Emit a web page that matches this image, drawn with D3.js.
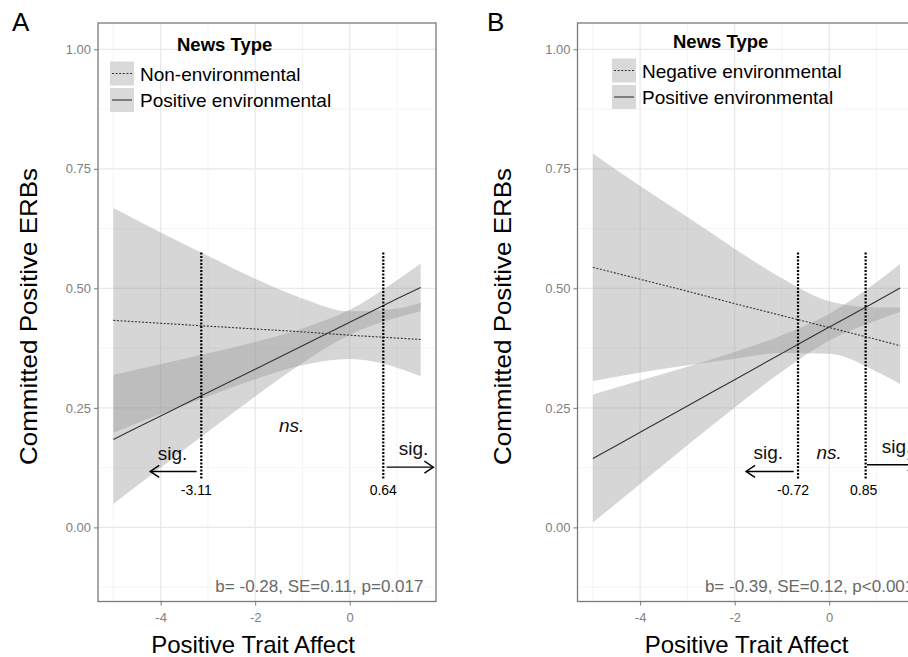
<!DOCTYPE html>
<html>
<head>
<meta charset="utf-8">
<script src="https://cdn.jsdelivr.net/npm/d3@7"></script>
<style>
  body { margin: 0; background: #fff; }
  text { font-family: "Liberation Sans", Arial, sans-serif; }
</style>
</head>
<body>
<svg id="chart" width="908" height="657"></svg>
<script>
// values
var xPts = [-5, -4, -3, -2, -1, 0, 1, 1.5];

// panel A
var fitA_non = [0.433, 0.427, 0.421, 0.415, 0.409, 0.402, 0.396, 0.393];
var loA_non  = [0.198, 0.237, 0.274, 0.310, 0.339, 0.352, 0.334, 0.316];
var hiA_non  = [0.668, 0.617, 0.568, 0.520, 0.479, 0.452, 0.458, 0.470];
var fitA_pos = [0.184, 0.233, 0.282, 0.331, 0.380, 0.429, 0.478, 0.502];
var loA_pos  = [0.049, 0.125, 0.200, 0.274, 0.344, 0.403, 0.439, 0.452];
var hiA_pos  = [0.319, 0.341, 0.364, 0.388, 0.416, 0.455, 0.517, 0.552];

// panel B
var fitB_neg = [0.544, 0.519, 0.494, 0.468, 0.443, 0.418, 0.393, 0.380];
var loB_neg  = [0.306, 0.324, 0.339, 0.353, 0.365, 0.363, 0.326, 0.300];
var hiB_neg  = [0.782, 0.714, 0.649, 0.583, 0.521, 0.473, 0.460, 0.460];
var fitB_pos = [0.144, 0.199, 0.254, 0.309, 0.364, 0.419, 0.473, 0.501];
var loB_pos  = [0.010, 0.091, 0.172, 0.251, 0.326, 0.391, 0.433, 0.451];
var hiB_pos  = [0.278, 0.307, 0.336, 0.367, 0.402, 0.447, 0.513, 0.551];

var xTicks = [-4, -2, 0];
var xMinor = [-5, -3, -1, 1];
var yTicks = [0, 0.25, 0.5, 0.75, 1];
var yMinor = [-0.125, 0.125, 0.375, 0.625, 0.875];

var legendA = ["Non-environmental", "Positive environmental"];
var legendB = ["Negative environmental", "Positive environmental"];

// Johnson-Neyman lines: drawn position and printed label
var jnA = [-3.14, 0.71], jnLabA = ["-3.11", "0.64"];
var jnB = [-0.66, 0.77], jnLabB = ["-0.72", "0.85"];

var statA = "b= -0.28, SE=0.11, p=0.017";
var statB = "b= -0.39, SE=0.12, p<0.001";

var svg = d3.select("#chart");
svg.append("rect").attr("width", 908).attr("height", 657).attr("fill", "#fff");

function zip(ys) {
  return xPts.map(function (x, i) { return { x: x, y: ys[i] }; });
}
function band(lo, hi) {
  return xPts.map(function (x, i) { return { x: x, lo: lo[i], hi: hi[i] }; });
}

function drawPanel(cfg) {
  var x = d3.scaleLinear().domain([-5.325, 1.825]).range([cfg.left, cfg.left + 338]);
  var y = d3.scaleLinear().domain([-0.155, 1.055]).range([601.5, 23]);
  var g = svg.append("g");

  // grid
  g.selectAll(".minx").data(xMinor).enter().append("line")
    .attr("x1", x).attr("x2", x).attr("y1", y(1.055)).attr("y2", y(-0.155))
    .attr("stroke", "#f1f1f1").attr("stroke-width", 0.7);
  g.selectAll(".miny").data(yMinor).enter().append("line")
    .attr("y1", y).attr("y2", y).attr("x1", x(-5.325)).attr("x2", x(1.825))
    .attr("stroke", "#f1f1f1").attr("stroke-width", 0.7);
  g.selectAll(".majx").data(xTicks).enter().append("line")
    .attr("x1", x).attr("x2", x).attr("y1", y(1.055)).attr("y2", y(-0.155))
    .attr("stroke", "#e8e8e8").attr("stroke-width", 1.2);
  g.selectAll(".majy").data(yTicks).enter().append("line")
    .attr("y1", y).attr("y2", y).attr("x1", x(-5.325)).attr("x2", x(1.825))
    .attr("stroke", "#e8e8e8").attr("stroke-width", 1.2);

  // ribbons
  var area = d3.area().curve(d3.curveMonotoneX)
    .x(function (d) { return x(d.x); })
    .y0(function (d) { return y(d.lo); })
    .y1(function (d) { return y(d.hi); });
  cfg.bands.forEach(function (b) {
    g.append("path").attr("d", area(b))
      .attr("fill", "#999").attr("fill-opacity", 0.4);
  });

  // fitted lines
  var line = d3.line().curve(d3.curveMonotoneX)
    .x(function (d) { return x(d.x); })
    .y(function (d) { return y(d.y); });
  g.append("path").attr("d", line(cfg.dotted))
    .attr("fill", "none").attr("stroke", "#333").attr("stroke-width", 1.1)
    .attr("stroke-dasharray", "2,1.6");
  g.append("path").attr("d", line(cfg.solid))
    .attr("fill", "none").attr("stroke", "#333").attr("stroke-width", 1.1);

  // JN lines
  g.selectAll(".jn").data(cfg.jn).enter().append("line")
    .attr("x1", x).attr("x2", x).attr("y1", y(0.575)).attr("y2", y(0.10))
    .attr("stroke", "#000").attr("stroke-width", 2.2)
    .attr("stroke-dasharray", "2,1.5");
  g.selectAll(".jnl").data(cfg.jn).enter().append("text")
    .attr("x", function (d, i) { return x(d) + cfg.labShift[i]; })
    .attr("y", y(0.068))
    .attr("text-anchor", "middle").attr("font-size", 14).attr("fill", "#000")
    .text(function (d, i) { return cfg.jnLab[i]; });

  // arrows
  cfg.arrows.forEach(function (a) {
    var x1 = x(a[0]), x2 = x(a[1]), yy = y(a[2]);
    var dir = x2 > x1 ? 1 : -1;
    g.append("line").attr("x1", x1).attr("x2", x2).attr("y1", yy).attr("y2", yy)
      .attr("stroke", "#000").attr("stroke-width", 1.4);
    g.append("path")
      .attr("d", "M" + (x2 - dir * 9) + "," + (yy - 6) + "L" + x2 + "," + yy + "L" + (x2 - dir * 9) + "," + (yy + 6))
      .attr("fill", "none").attr("stroke", "#000").attr("stroke-width", 1.4);
  });

  cfg.notes.forEach(function (n) {
    g.append("text").attr("x", x(n.x)).attr("y", y(n.y))
      .attr("text-anchor", n.anchor).attr("font-size", 19)
      .attr("font-style", n.italic ? "italic" : "normal")
      .attr("fill", "#111").text(n.t);
  });

  // stats
  g.append("text").attr("x", x(cfg.stat.x)).attr("y", y(-0.136))
    .attr("text-anchor", cfg.stat.anchor).attr("font-size", 17)
    .attr("fill", "#6a6a6a").text(cfg.stat.t);

  // border
  g.append("rect").attr("x", x(-5.325)).attr("y", y(1.055))
    .attr("width", 338).attr("height", y(-0.155) - y(1.055))
    .attr("fill", "none").attr("stroke", "#7a7a7a").attr("stroke-width", 1.3);

  // axes (plain hyphen for negatives, like the original)
  var xAxis = d3.axisBottom(x).tickValues(xTicks).tickSize(4)
    .tickFormat(function (d) { return String(d); });
  var ax = g.append("g").attr("transform", "translate(0," + y(-0.155) + ")").call(xAxis);
  var yAxis = d3.axisLeft(y).tickValues(yTicks).tickSize(4)
    .tickFormat(function (d) { return d.toFixed(2); });
  var ay = g.append("g").attr("transform", "translate(" + x(-5.325) + ",0)").call(yAxis);
  [ax, ay].forEach(function (a) {
    a.select(".domain").remove();
    a.selectAll(".tick line").attr("stroke", "#7a7a7a");
    a.selectAll(".tick text").attr("fill", "#808080").attr("font-size", 13)
      .attr("font-family", "Liberation Sans, Arial, sans-serif");
  });
  ax.selectAll(".tick text").attr("dy", "1.05em");

  // titles
  g.append("text").attr("x", cfg.xTitleX).attr("y", 653)
    .attr("text-anchor", "middle").attr("font-size", 24).attr("fill", "#000")
    .text("Positive Trait Affect");
  g.append("text")
    .attr("transform", "translate(" + cfg.yTitleX + ",316.5) rotate(-90)")
    .attr("text-anchor", "middle").attr("font-size", 24).attr("fill", "#000")
    .attr("textLength", 297).attr("lengthAdjust", "spacingAndGlyphs")
    .text("Committed Positive ERBs");
  g.append("text").attr("x", cfg.tagX).attr("y", 31)
    .attr("font-size", 26).attr("fill", "#000").text(cfg.tag);

  // legend
  var lg = g.append("g").attr("transform", "translate(" + cfg.legX + "," + cfg.legY + ")");
  lg.append("text").attr("x", cfg.legTitleDx).attr("y", -11)
    .attr("font-size", 18.5).attr("font-weight", "bold").attr("fill", "#000")
    .text("News Type");
  cfg.legend.forEach(function (name, i) {
    var yy = i * 26.5;
    lg.append("rect").attr("x", 0).attr("y", yy).attr("width", 24).attr("height", 24)
      .attr("fill", "#d9d9d9");
    lg.append("line").attr("x1", 2).attr("x2", 22).attr("y1", yy + 12).attr("y2", yy + 12)
      .attr("stroke", "#333").attr("stroke-width", 1.1)
      .attr("stroke-dasharray", i === 0 ? "2,1.6" : null);
    lg.append("text").attr("x", 30).attr("y", yy + 19)
      .attr("font-size", 19).attr("fill", "#000").text(name);
  });
}

drawPanel({
  left: 98, tag: "A", tagX: 12, yTitleX: 37, xTitleX: 253,
  bands: [band(loA_non, hiA_non), band(loA_pos, hiA_pos)],
  dotted: zip(fitA_non), solid: zip(fitA_pos),
  jn: jnA, jnLab: jnLabA, labShift: [-5, 0],
  arrows: [[-3.24, -4.22, 0.117], [0.78, 1.77, 0.126]],
  notes: [
    { x: -3.75, y: 0.141, t: "sig.", anchor: "middle" },
    { x: 1.35, y: 0.152, t: "sig.", anchor: "middle" },
    { x: -1.23, y: 0.200, t: "ns.", anchor: "middle", italic: true }
  ],
  stat: { x: 1.56, anchor: "end", t: statA },
  legend: legendA, legX: 110, legY: 61.5, legTitleDx: 67
});

drawPanel({
  left: 577.5, tag: "B", tagX: 487, yTitleX: 511, xTitleX: 746.5,
  bands: [band(loB_neg, hiB_neg), band(loB_pos, hiB_pos)],
  dotted: zip(fitB_neg), solid: zip(fitB_pos),
  jn: jnB, jnLab: jnLabB, labShift: [-5, -2],
  arrows: [[-0.75, -1.76, 0.117], [0.80, 1.85, 0.131]],
  notes: [
    { x: -1.29, y: 0.143, t: "sig.", anchor: "middle" },
    { x: 0.0, y: 0.143, t: "ns.", anchor: "middle", italic: true },
    { x: 1.11, y: 0.155, t: "sig.", anchor: "start" }
  ],
  stat: { x: -2.63, anchor: "start", t: statB },
  legend: legendB, legX: 612, legY: 58.5, legTitleDx: 61
});
</script>
</body>
</html>
